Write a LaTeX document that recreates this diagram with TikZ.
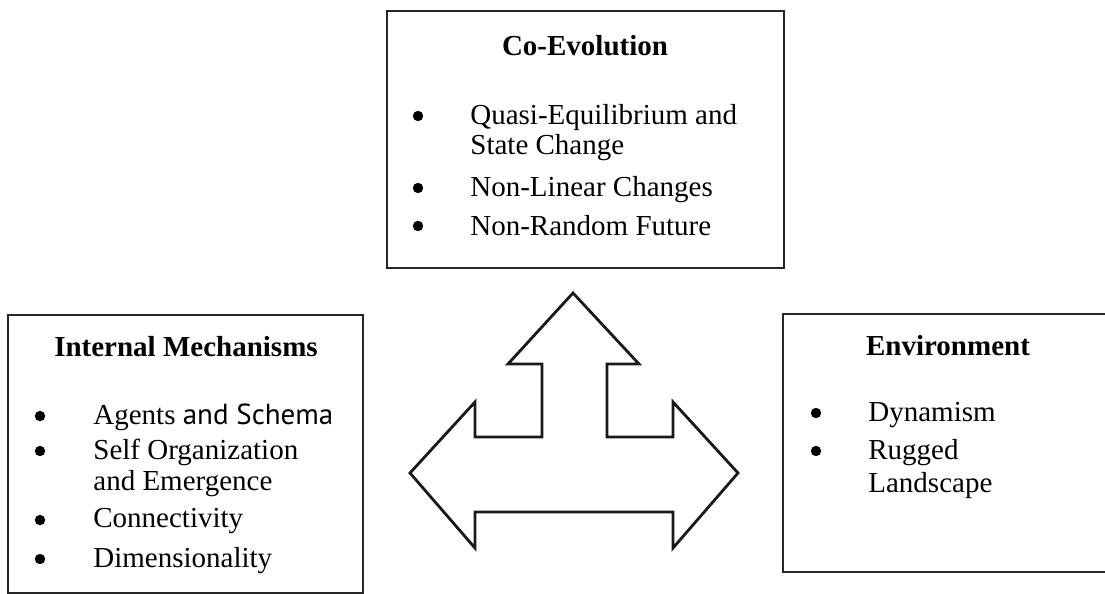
\documentclass[tikz,border=0pt]{standalone}
\usepackage{fontspec}
\setmainfont{Liberation Serif}
\newfontfamily\schemafont{PT Sans}
\begin{document}
\begin{tikzpicture}[x=0.5pt,y=-0.5pt,
  box/.style={draw=black!85,line width=1pt,fill=white,inner sep=0pt},
  txt/.style={anchor=base west,inner sep=0pt,font=\fontsize{14.5pt}{16pt}\selectfont},
  head/.style={anchor=base,inner sep=0pt,font=\fontsize{14.5pt}{16pt}\selectfont\bfseries},
  bul/.style={circle,fill=black,inner sep=0pt,minimum size=5.2pt},
  bigarrow/.style={draw=black!90,line width=1.4pt,line join=miter,fill=white}]
\useasboundingbox (0,0) rectangle (1105,594);
\clip (0,0) rectangle (1105,594);
% boxes
\node[box,minimum width=198.5pt,minimum height=128.5pt] (co) at (585.5,139.5) {};
\node[box,minimum width=177.5pt,minimum height=139pt] (im) at (185.5,454) {};
\node[box,minimum width=164.5pt,minimum height=129pt] (env) at (947.5,443) {};
% Co-Evolution
\node[head] (coh) at (585,55) {Co-Evolution};
\node[bul] (cob1) at (418,116) {};
\node[txt] (co1) at (470,124) {Quasi-Equilibrium and};
\node[txt] (co1b) at (470,155) {State Change};
\node[bul] (cob2) at (418,188) {};
\node[txt] (co2) at (470,196) {Non-Linear Changes};
\node[bul] (cob3) at (418,226) {};
\node[txt] (co3) at (470,235) {Non-Random Future};
% Internal Mechanisms
\node[head] (imh) at (186,356) {Internal Mechanisms};
\node[bul] (imb1) at (40,416) {};
\node[txt] (im1) at (93,424) {Agents {\schemafont and Schema}};
\node[bul] (imb2) at (40,451) {};
\node[txt] (im2) at (93,459) {Self Organization};
\node[txt] (im2b) at (93,490) {and Emergence};
\node[bul] (imb3) at (40,520) {};
\node[txt] (im3) at (93,527) {Connectivity};
\node[bul] (imb4) at (40,559) {};
\node[txt] (im4) at (93,567) {Dimensionality};
% Environment
\node[head] (envh) at (948,355) {Environment};
\node[bul] (envb1) at (816,413) {};
\node[txt] (env1) at (868,421) {Dynamism};
\node[bul] (envb2) at (816,451) {};
\node[txt] (env2) at (868,459) {Rugged};
\node[txt] (env2b) at (868,492) {Landscape};
% three-way arrow
\draw[bigarrow] (573,293) -- (639,364) -- (607,364) -- (607,437) -- (673,437)
  -- (673,402) -- (738,473) -- (673,548) -- (673,512) -- (475,512) -- (475,548)
  -- (410,473) -- (475,402) -- (475,437) -- (542,437) -- (542,364) -- (508,364) -- cycle;
\end{tikzpicture}
\end{document}
